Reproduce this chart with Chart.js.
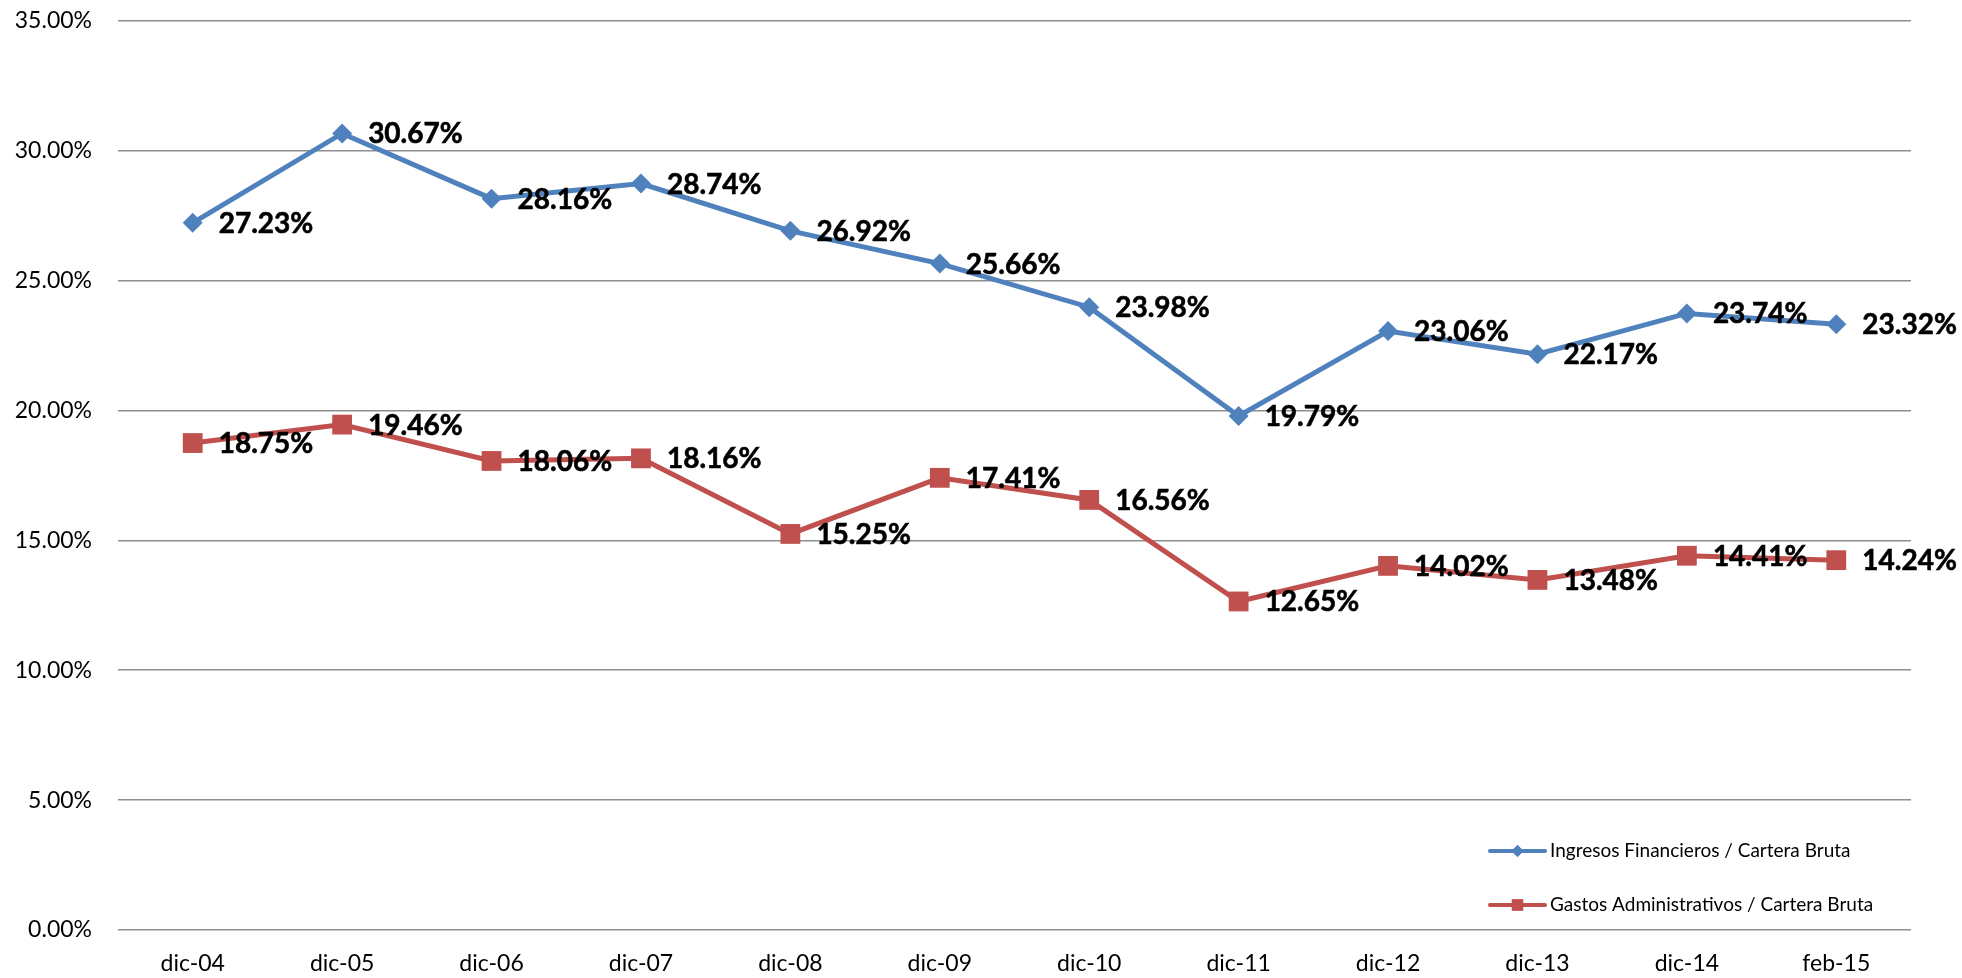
<!DOCTYPE html>
<html>
<head>
<meta charset="utf-8">
<script src="https://cdn.jsdelivr.net/npm/chart.js@4/dist/chart.umd.min.js"></script>
<style>
  html, body { margin: 0; padding: 0; background: #fff; }
  #wrap { width: 1962px; height: 978px; }
</style>
</head>
<body>
<div id="wrap"><canvas id="c" width="1962" height="978"></canvas></div>
<script>
const categories = ['dic-04','dic-05','dic-06','dic-07','dic-08','dic-09','dic-10','dic-11','dic-12','dic-13','dic-14','feb-15'];
const ingresosLabel = 'Ingresos Financieros / Cartera Bruta';
const ingresos = [27.23, 30.67, 28.16, 28.74, 26.92, 25.66, 23.98, 19.79, 23.06, 22.17, 23.74, 23.32];
const gastosLabel = 'Gastos Administrativos / Cartera Bruta';
const gastos = [18.75, 19.46, 18.06, 18.16, 15.25, 17.41, 16.56, 12.65, 14.02, 13.48, 14.41, 14.24];
const yMin = 0, yMax = 35, yStep = 5;

const BLUE = '#4F81BD';
const RED = '#C0504D';
const FONT = 'Lato, "Open Sans", sans-serif';

const dataLabelPlugin = {
  id: 'dataLabels',
  afterDatasetsDraw(chart) {
    const ctx = chart.ctx;
    ctx.save();
    ctx.font = 'bold 28px ' + FONT;
    ctx.fillStyle = '#000';
    ctx.textAlign = 'left';
    ctx.textBaseline = 'middle';
    chart.data.datasets.forEach((ds, di) => {
      const meta = chart.getDatasetMeta(di);
      meta.data.forEach((pt, i) => {
        const t = ds.data[i].toFixed(2) + '%';
        ctx.lineWidth = 0.6;
        ctx.strokeStyle = '#000';
        ctx.strokeText(t, pt.x + 26, pt.y + 1);
        ctx.fillText(t, pt.x + 26, pt.y + 1);
      });
    });
    ctx.restore();
  }
};

const innerLegendPlugin = {
  id: 'innerLegend',
  afterDraw(chart) {
    const ctx = chart.ctx;
    ctx.save();
    const x0 = 1490, x1 = 1545;
    const rows = [851, 905];
    chart.data.datasets.forEach((ds, di) => {
      const y = rows[di];
      ctx.strokeStyle = ds.borderColor;
      ctx.lineWidth = 4;
      ctx.lineCap = 'round';
      ctx.beginPath();
      ctx.moveTo(x0, y);
      ctx.lineTo(x1, y);
      ctx.stroke();
      ctx.fillStyle = ds.borderColor;
      Chart.helpers.drawPoint(ctx, {pointStyle: ds.pointStyle, radius: di === 0 ? 6 : 8, borderWidth: 0}, (x0 + x1) / 2, y);
      ctx.fill();
      ctx.fillStyle = '#000';
      ctx.font = '19px ' + FONT;
      ctx.textAlign = 'left';
      ctx.textBaseline = 'middle';
      ctx.fillText(ds.label, x1 + 5, y);
    });
    ctx.restore();
  }
};

new Chart(document.getElementById('c'), {
  type: 'line',
  data: {
    labels: categories,
    datasets: [
      {
        label: ingresosLabel,
        data: ingresos,
        borderColor: BLUE,
        backgroundColor: BLUE,
        borderWidth: 5,
        pointStyle: 'rectRot',
        pointRadius: 10,
        pointHoverRadius: 10,
        pointBorderWidth: 0,
        tension: 0
      },
      {
        label: gastosLabel,
        data: gastos,
        borderColor: RED,
        backgroundColor: RED,
        borderWidth: 5,
        pointStyle: 'rect',
        pointRadius: 14,
        pointHoverRadius: 14,
        pointBorderWidth: 0,
        tension: 0
      }
    ]
  },
  options: {
    responsive: false,
    animation: false,
    devicePixelRatio: 1,
    layout: { autoPadding: false, padding: { left: 0, right: 51, top: 21, bottom: 0 } },
    plugins: {
      legend: { display: false },
      tooltip: { enabled: false }
    },
    scales: {
      x: {
        type: 'category',
        offset: true,
        grid: { display: false, drawTicks: false },
        border: { display: false },
        ticks: { color: '#000', font: { family: FONT, size: 23 }, padding: 20, maxRotation: 0, autoSkip: false },
        afterFit(scale) { scale.height = 48; }
      },
      y: {
        min: yMin,
        max: yMax,
        grid: { color: '#8E8E8E', lineWidth: 1.6, drawTicks: false },
        border: { display: false },
        ticks: {
          stepSize: yStep,
          color: '#000',
          font: { family: FONT, size: 23 },
          padding: 26,
          callback: (v) => v.toFixed(2) + '%'
        },
        afterFit(scale) { scale.width = 118; scale.paddingTop = 0; scale.paddingBottom = 0; }
      }
    }
  },
  plugins: [dataLabelPlugin, innerLegendPlugin]
});
</script>
</body>
</html>
